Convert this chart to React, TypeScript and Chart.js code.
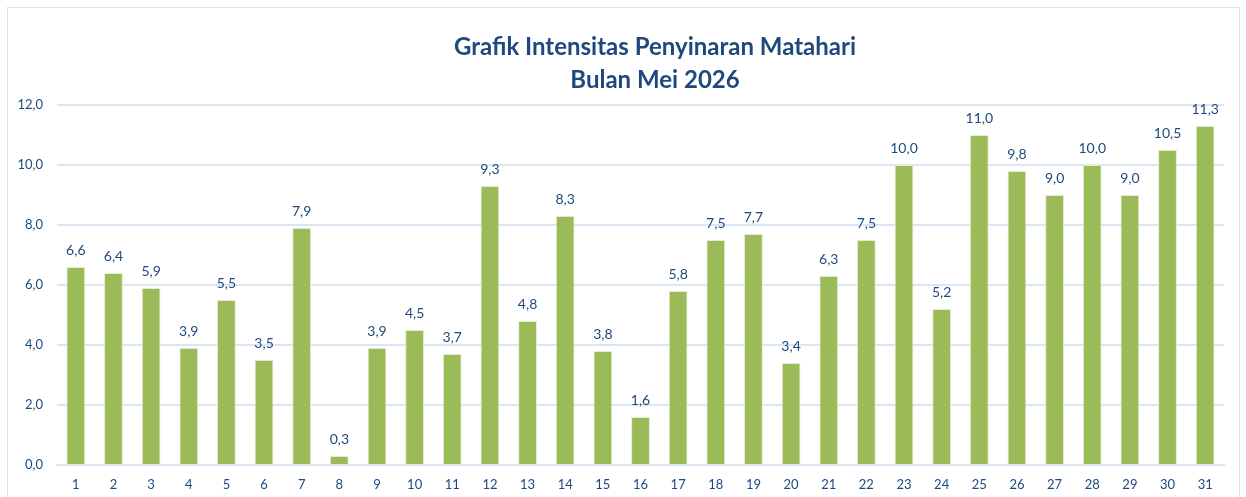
import React, { useEffect, useRef } from "react";
import { Chart, registerables } from "chart.js";

Chart.register(...registerables);

const days: string[] = Array.from({ length: 31 }, (_, i) => String(i + 1));
const intensity: number[] = [
  6.6, 6.4, 5.9, 3.9, 5.5, 3.5, 7.9, 0.3, 3.9, 4.5, 3.7, 9.3, 4.8, 8.3, 3.8, 1.6,
  5.8, 7.5, 7.7, 3.4, 6.3, 7.5, 10.0, 5.2, 11.0, 9.8, 9.0, 10.0, 9.0, 10.5, 11.3,
];
const titleLines: string[] = ["Grafik Intensitas Penyinaran Matahari", "Bulan Mei 2026"];

const TEXT = "#1F497D";
const FONT = "Lato, 'Open Sans', sans-serif";
const fmt = (v: number) => v.toFixed(1).replace(".", ",");

const labelPlugin = {
  id: "barLabels",
  afterDatasetsDraw(chart: any) {
    const ctx = chart.ctx;
    const meta = chart.getDatasetMeta(0);
    ctx.save();
    ctx.font = `14px ${FONT}`;
    ctx.fillStyle = TEXT;
    ctx.textAlign = "center";
    ctx.textBaseline = "middle";
    meta.data.forEach((bar: any, i: number) => {
      ctx.fillText(fmt(intensity[i]), bar.x, bar.y - 17);
    });
    ctx.restore();
  },
};

const titlePlugin = {
  id: "titleText",
  afterDraw(chart: any) {
    const ctx = chart.ctx;
    ctx.save();
    ctx.font = `bold 24px ${FONT}`;
    ctx.fillStyle = TEXT;
    ctx.textAlign = "center";
    ctx.textBaseline = "middle";
    const cx = 655;
    titleLines.forEach((line, i) => ctx.fillText(line, cx, 47 + i * 33));
    ctx.restore();
  },
};

export default function App() {
  const ref = useRef<HTMLCanvasElement>(null);
  useEffect(() => {
    document.body.style.margin = "0";
    const chart = new Chart(ref.current!, {
      type: "bar",
      data: {
        labels: days,
        datasets: [
          {
            data: intensity,
            backgroundColor: "#9BBB59",
            borderColor: "#E6EBD3",
            borderWidth: 1,
            barPercentage: 0.5,
            categoryPercentage: 1,
          },
        ],
      },
      options: {
        animation: false,
        responsive: false,
        layout: { padding: { left: 0, right: 22, top: 105, bottom: 0 } },
        plugins: {
          legend: { display: false },
          tooltip: { enabled: false },
          title: { display: false },
        },
        scales: {
          x: {
            afterFit: (s: any) => {
              s.height = 32;
            },
            grid: { display: false, drawTicks: false },
            border: { color: "#DCE6F2", width: 2 },
            ticks: { color: TEXT, font: { family: FONT, size: 13 }, padding: 12 },
          },
          y: {
            min: 0,
            max: 12,
            afterFit: (s: any) => {
              s.width = 57;
            },
            grid: { color: "#DCE6F2", lineWidth: 2, drawTicks: false },
            border: { display: false },
            ticks: {
              stepSize: 2,
              color: TEXT,
              font: { family: FONT, size: 13 },
              padding: 14,
              callback: (v: any) => fmt(Number(v)),
            },
          },
        },
      },
      plugins: [labelPlugin, titlePlugin],
    });
    return () => chart.destroy();
  }, []);
  return (
    <div style={{ position: "relative", width: 1246, height: 497 }}>
      <div
        style={{
          position: "absolute",
          left: 7,
          top: 7,
          width: 1233,
          height: 500,
          border: "1px solid #D9E1EC",
          boxSizing: "border-box",
        }}
      />
      <canvas ref={ref} width={1246} height={497} style={{ position: "absolute", left: 0, top: 0 }} />
    </div>
  );
}
